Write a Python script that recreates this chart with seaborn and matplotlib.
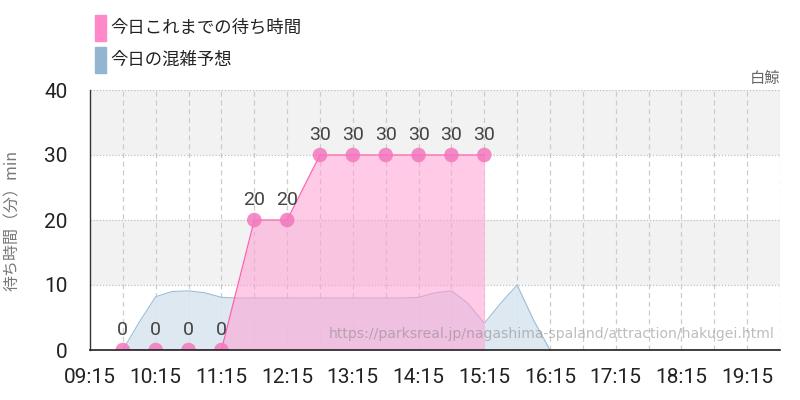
import numpy as np
import pandas as pd
import matplotlib
matplotlib.use("Agg")
import matplotlib.pyplot as plt
import seaborn as sns
from matplotlib.patches import Rectangle

# ---- data ----
actual_times = ["09:45", "10:15", "10:45", "11:15", "11:45", "12:15",
                "12:45", "13:15", "13:45", "14:15", "14:45", "15:15"]
actual_wait = [0, 0, 0, 0, 20, 20, 30, 30, 30, 30, 30, 30]

forecast_times = ["09:15", "09:30", "09:45", "10:00", "10:15", "10:30", "10:45",
                  "11:00", "11:15", "11:30", "11:45", "12:00", "12:15", "12:30",
                  "12:45", "13:00", "13:15", "13:30", "13:45", "14:00", "14:15",
                  "14:30", "14:45", "15:00", "15:15", "15:30", "15:45", "16:00",
                  "16:15", "16:30", "16:45", "17:00", "17:30", "18:00", "18:30",
                  "19:00", "19:30", "19:45"]
forecast_wait = [0, -0.2, 0, 4.3, 8.2, 9.0, 9.1, 8.8, 8.1, 8.0, 8.0, 8.0, 8.0, 8.0,
                 8.0, 8.0, 8.0, 8.0, 8.0, 8.0, 8.1, 8.8, 9.1, 7.2, 4.1, 7.2, 10.0, 4.6,
                 0, -0.3, -0.1, 0, 0, 0, 0, 0, 0, 0]

tick_labels = ["09:15", "10:15", "11:15", "12:15", "13:15", "14:15",
               "15:15", "16:15", "17:15", "18:15", "19:15"]
y_ticks = [0, 10, 20, 30, 40]

legend_labels = ["今日これまでの待ち時間", "今日の混雑予想"]
attraction = "白鯨"
y_label = "待ち時間（分）min"
watermark = "https://parksreal.jp/nagashima-spaland/attraction/hakugei.html"


def to_min(s):
    h, m = s.split(":")
    return int(h) * 60 + int(m)


act = pd.DataFrame({"t": [to_min(s) for s in actual_times], "w": actual_wait})
fc = pd.DataFrame({"t": [to_min(s) for s in forecast_times], "w": forecast_wait})

sns.set_theme(style="white")
jp = ["Noto Sans CJK JP", "DejaVu Sans"]
num_font = ["Roboto"]
plt.rcParams["font.family"] = jp

fig = plt.figure(figsize=(8, 4), dpi=100)
ax = fig.add_axes([90 / 800, 50 / 400, 690 / 800, 260 / 400])

xmin, xmax = to_min("09:15"), to_min("19:45")
ax.set_xlim(xmin, xmax)
ax.set_ylim(0, 40)

# background bands
for lo, hi in [(10, 20), (30, 40)]:
    ax.axhspan(lo, hi, color="#f2f2f2", zorder=0, lw=0)

# grid
for t in range(xmin + 30, xmax + 1, 30):
    ax.axvline(t, color="#cccccc", lw=0.9, ls=(0, (4, 3)), zorder=1)
for y in y_ticks[1:]:
    ax.axhline(y, color="#c0c0c0", lw=0.9, ls=(0, (1, 1.5)), zorder=1)

# forecast (blue)
ax.fill_between(fc["t"], fc["w"], 0, color="#dae6f0", alpha=0.9, lw=0, zorder=2)
sns.lineplot(data=fc, x="t", y="w", ax=ax, color="#9dbcd6", lw=0.8, zorder=3)

# actual (pink)
ax.fill_between(act["t"], act["w"], 0, color="#ff9fd2", alpha=0.55, lw=0, zorder=4)
ax.vlines(act["t"].iloc[-1], 0, act["w"].iloc[-1], color="#ffb8dd", lw=0.6, zorder=4)
sns.lineplot(data=act, x="t", y="w", ax=ax, color="#ff5fb0", lw=0.9, zorder=5)
sns.scatterplot(data=act, x="t", y="w", ax=ax, color="#f477bd", s=110,
                alpha=0.85, edgecolor="none", zorder=6)
for t, w in zip(act["t"], act["w"]):
    ax.annotate(str(w), (t, w), xytext=(0, 8), textcoords="offset points",
                ha="center", va="bottom", fontsize=14, color="#444444",
                family=num_font, zorder=7)

# axes styling
for side in ["top", "right"]:
    ax.spines[side].set_visible(False)
ax.spines["left"].set_color("#333333")
ax.spines["bottom"].set_color("#222222")
ax.spines["left"].set_linewidth(1.0)
ax.spines["bottom"].set_linewidth(1.2)
ax.spines["left"].set_zorder(8)
ax.spines["bottom"].set_zorder(8)

ax.set_xticks([to_min(s) for s in tick_labels])
ax.set_xticklabels(tick_labels, family=num_font, fontsize=15, color="#222222")
ax.set_yticks(y_ticks)
ax.set_yticklabels([str(v) for v in y_ticks], family=num_font, fontsize=15,
                   color="#222222")
ax.tick_params(axis="x", length=10, color="#bbbbbb", width=0.9, pad=3)
ax.tick_params(axis="y", length=14, color="#bbbbbb", width=0.9, pad=2)
ax.set_xlabel("")
ax.set_ylabel(y_label, fontsize=11.5, color="#777777", labelpad=6)
ax.yaxis.set_label_coords(-0.1, 0.5)

# attraction name
fig.text(780 / 800, 1 - 78 / 400, attraction, ha="right", va="center",
         fontsize=11, color="#666666")

# watermark
ax.text(0.992, 0.035, watermark, transform=ax.transAxes, ha="right", va="bottom",
        fontsize=10.1, color="#888888", alpha=0.55, family=["DejaVu Sans"], zorder=9)

# legend
leg_colors = ["#ff88c8", "#92b5d1"]
for i, (lab, col) in enumerate(zip(legend_labels, leg_colors)):
    yc = 28 + i * 32
    fig.patches.append(Rectangle((95 / 800, 1 - (yc + 13) / 400), 11 / 800, 26 / 400,
                                 transform=fig.transFigure, color=col))
    fig.text(110 / 800, 1 - yc / 400, lab, ha="left", va="center",
             fontsize=12.5, color="#222222")

fig.savefig("out.png", dpi=100)
